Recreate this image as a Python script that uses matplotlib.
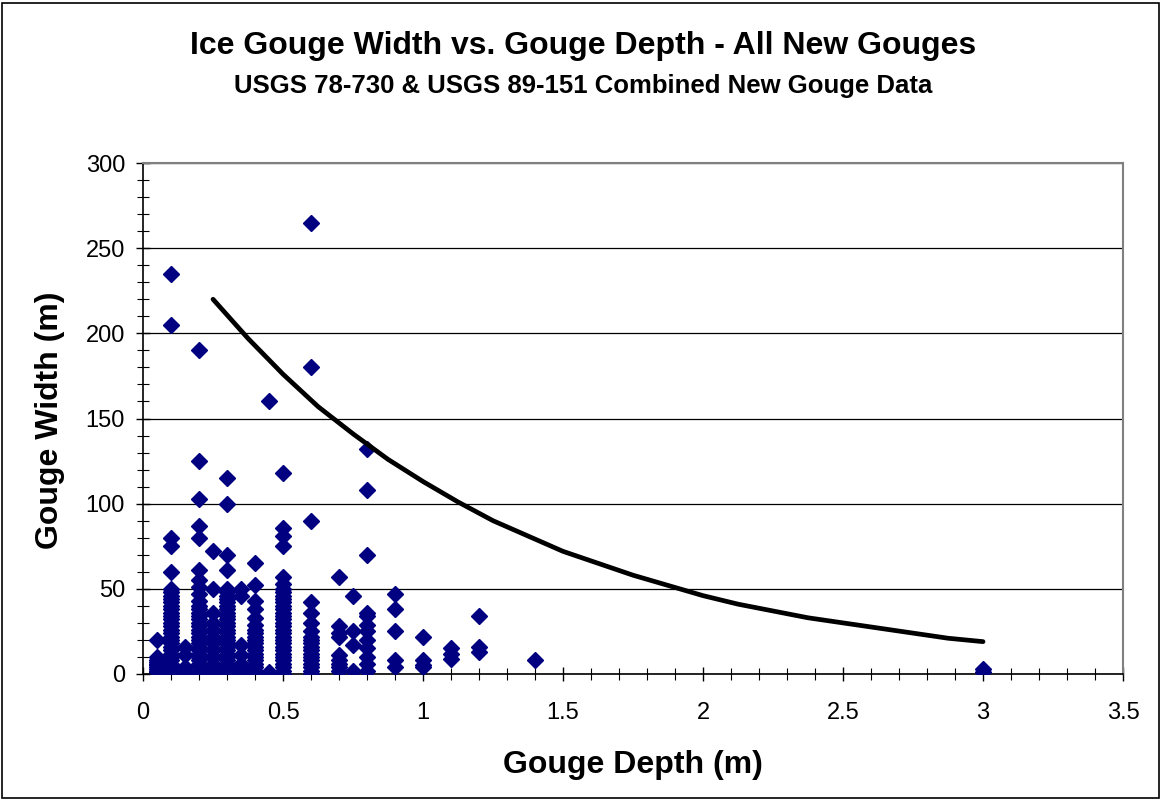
import matplotlib.pyplot as plt
from matplotlib.ticker import MultipleLocator
from matplotlib.patches import Rectangle

plt.rcParams["font.family"] = ["Liberation Sans", "DejaVu Sans"]

# Profundidades (m) de cada columna de puntos y sus anchos (m)
depths = [0.05, 0.1, 0.15, 0.2, 0.25, 0.3, 0.35, 0.4, 0.45, 0.5,
          0.6, 0.7, 0.75, 0.8, 0.9, 1.0, 1.1, 1.2, 1.4, 3.0]

w_005 = [1, 2, 3, 4, 5, 6, 7, 8, 10, 20]
w_010 = [0, 2, 4, 6, 8, 10, 12, 14, 16, 18, 20, 22, 24, 26, 28, 30, 32, 34,
         36, 38, 40, 42, 44, 46, 48, 50, 60, 75, 80, 205, 235]
w_015 = [2, 4, 11, 16]
w_020 = [0, 2, 4, 6, 8, 10, 12, 14, 16, 18, 20, 22, 24, 26, 28, 30, 32, 34,
         36, 38, 40, 43, 47, 51, 55, 61, 80, 87, 103, 125, 190]
w_025 = [0, 3, 6, 10, 14, 18, 22, 26, 30, 36, 50, 72]
w_030 = [0, 2, 4, 6, 8, 10, 12, 14, 16, 18, 20, 22, 24, 26, 28, 30, 32, 34,
         36, 38, 40, 42, 44, 46, 48, 50, 61, 70, 100, 115]
w_035 = [1, 3, 6, 11, 17, 46, 50]
w_040 = [0, 2, 4, 6, 8, 10, 12, 14, 16, 18, 20, 22, 24, 26, 29, 33, 38, 43,
         52, 65]
w_045 = [1, 160]
w_050 = [0, 2, 4, 6, 8, 10, 12, 14, 16, 18, 20, 22, 24, 26, 28, 30, 32, 34,
         36, 38, 40, 42, 44, 46, 48, 50, 53, 57, 75, 81, 86, 118]
w_060 = [0, 2, 4, 6, 8, 10, 12, 14, 16, 18, 20, 22, 25, 30, 36, 42, 90,
         180, 265]
w_070 = [2, 4, 6, 8, 11, 22, 24, 28, 57]
w_075 = [2, 17, 25, 46]
w_080 = [2, 6, 10, 15, 20, 25, 29, 34, 36, 70, 108, 132]
w_090 = [4, 8, 25, 38, 47]
w_100 = [4, 5, 8, 22]
w_110 = [9, 12, 15]
w_120 = [13, 16, 34]
w_140 = [8]
w_300 = [1, 3]

widths = [w_005, w_010, w_015, w_020, w_025, w_030, w_035, w_040, w_045,
          w_050, w_060, w_070, w_075, w_080, w_090, w_100, w_110, w_120,
          w_140, w_300]

# Curva envolvente
curve_x = [0.25, 0.375, 0.5, 0.625, 0.75, 0.875, 1.0, 1.125, 1.25, 1.375,
           1.5, 1.625, 1.75, 1.875, 2.0, 2.125, 2.25, 2.375, 2.5, 2.625,
           2.75, 2.875, 3.0]
curve_y = [220, 197, 176, 157, 141, 126, 113, 101, 90, 81,
           72, 65, 58, 52, 46, 41, 37, 33, 30, 27,
           24, 21, 19]

fig = plt.figure(figsize=(11.61, 8.0), dpi=100)
fig.patches.append(Rectangle((0.002, 0.002), 0.996, 0.994, transform=fig.transFigure,
                             fill=False, edgecolor="black", linewidth=1.2))
ax = fig.add_axes([0.1232, 0.1575, 0.8441, 0.63875])

xs = []
ys = []
for d, ws in zip(depths, widths):
    for w in ws:
        xs.append(d)
        ys.append(w)

ax.plot(xs, ys, linestyle="none", marker="D", markersize=8.2,
        color="#000080", zorder=3)
ax.plot(curve_x, curve_y, color="black", linewidth=3.4, zorder=4,
        solid_capstyle="round", solid_joinstyle="round")

ax.set_xlim(0, 3.5)
ax.set_ylim(0, 300)
ax.set_xticks([0, 0.5, 1, 1.5, 2, 2.5, 3, 3.5])
ax.set_xticklabels(["0", "0.5", "1", "1.5", "2", "2.5", "3", "3.5"])
ax.xaxis.set_minor_locator(MultipleLocator(0.1))
ax.yaxis.set_major_locator(MultipleLocator(50))
ax.yaxis.set_minor_locator(MultipleLocator(10))

ax.tick_params(which="major", direction="inout", length=10, width=1,
               labelsize=17)
ax.tick_params(axis="y", which="major", pad=8)
ax.tick_params(axis="x", which="major", pad=15)
ax.tick_params(which="minor", direction="inout", length=8, width=0.8)
ax.grid(True, axis="y", which="major", color="black", linewidth=0.9)
ax.set_axisbelow(True)

for side in ["left", "bottom"]:
    ax.spines[side].set_color("black")
    ax.spines[side].set_linewidth(1.2)
for side in ["top", "right"]:
    ax.spines[side].set_color("#808080")
    ax.spines[side].set_linewidth(1.5)

fig.text(0.5448, 0.0437, "Gouge Depth (m)", ha="center", va="center",
         fontsize=23, fontweight="bold")
fig.text(0.0431, 0.475, "Gouge Width (m)", ha="center", va="center",
         rotation=90, fontsize=23, fontweight="bold")

fig.text(0.5026, 0.9425, "Ice Gouge Width vs. Gouge Depth - All New Gouges",
         ha="center", va="center", fontsize=23, fontweight="bold")
fig.text(0.5026, 0.892, "USGS 78-730 & USGS 89-151 Combined New Gouge Data",
         ha="center", va="center", fontsize=18.5, fontweight="bold")

fig.savefig("out.png", dpi=100)
